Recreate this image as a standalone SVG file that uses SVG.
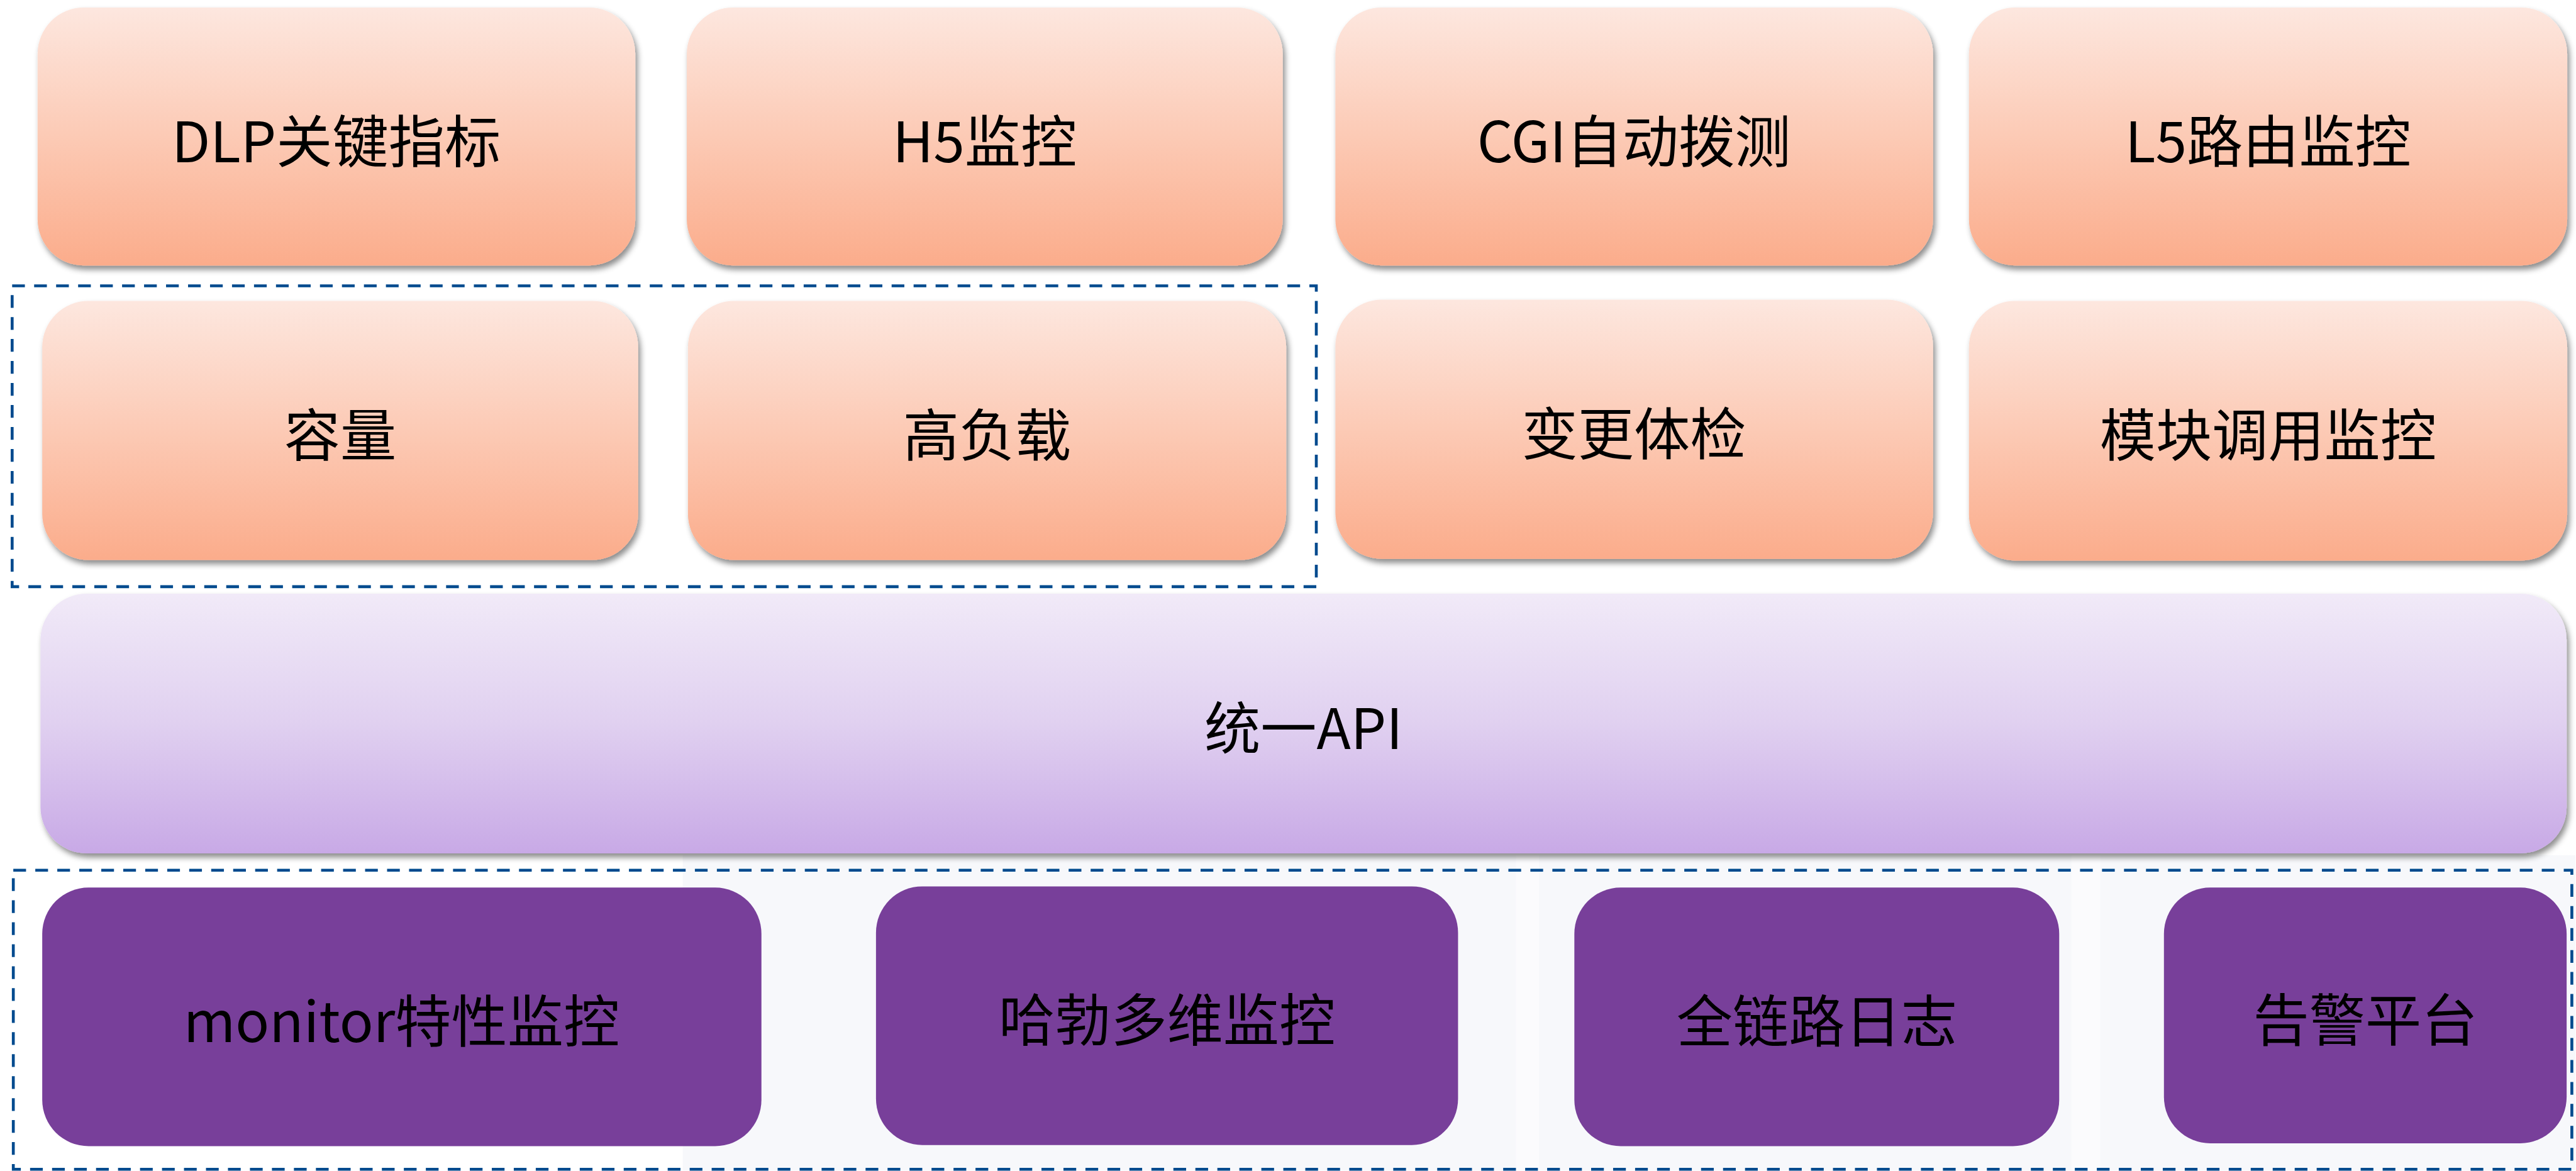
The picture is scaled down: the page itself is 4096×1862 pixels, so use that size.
<svg xmlns="http://www.w3.org/2000/svg" width="4096" height="1862" viewBox="0 0 4096 1862">
<defs>
<linearGradient id="gOrange" x1="0" y1="0" x2="0" y2="1">
<stop offset="0" stop-color="#FDE7DF"/>
<stop offset="0.5" stop-color="#FCCAB5"/>
<stop offset="1" stop-color="#FBAC8B"/>
</linearGradient>
<linearGradient id="gLilac" x1="0" y1="0" x2="0" y2="1">
<stop offset="0" stop-color="#F1EAF8"/>
<stop offset="0.5" stop-color="#E0D0F0"/>
<stop offset="1" stop-color="#C8A9E6"/>
</linearGradient>
<filter id="shadow" x="-5%" y="-5%" width="112%" height="120%">
<feDropShadow dx="4" dy="7" stdDeviation="5" flood-color="#000" flood-opacity="0.45"/>
</filter>
<style>
.orange{fill:url(#gOrange);filter:url(#shadow);}
.lilac{fill:url(#gLilac);filter:url(#shadow);}
.dark{fill:#783F9A;}
.lbl{font-family:"Noto Sans CJK SC","Microsoft YaHei","Noto Sans",sans-serif;font-size:97px;fill:#000;text-anchor:middle;dominant-baseline:central;}
.dash{fill:none;stroke:#004A8E;stroke-width:5;stroke-dasharray:22 16;}
</style>
</defs>
<rect width="4096" height="1862" fill="#FFFFFF"/>
<g transform="scale(0.92)">
<g id="watermark">
<rect x="1180" y="1478" width="3271" height="545" fill="#F7F8FB"/>
<rect x="2620" y="1478" width="40" height="545" fill="#FBFBFD"/>
<rect x="3580" y="1478" width="50" height="545" fill="#FBFBFD"/>
</g>
<g id="groups">
<rect class="dash" x="21" y="494" width="2254" height="520"/>
<rect class="dash" x="23" y="1504" width="4422" height="517"/>
</g>
<g id="n_dlp"><rect class="orange" x="65" y="13" width="1033" height="446" rx="80"/><text class="lbl" x="581" y="238">DLP关键指标</text></g>
<g id="n_h5"><rect class="orange" x="1187" y="13" width="1030" height="446" rx="80"/><text class="lbl" x="1702" y="238">H5监控</text></g>
<g id="n_cgi"><rect class="orange" x="2308" y="13" width="1033" height="446" rx="80"/><text class="lbl" x="2824" y="238">CGI自动拨测</text></g>
<g id="n_l5"><rect class="orange" x="3403" y="13" width="1034" height="446" rx="80"/><text class="lbl" x="3920" y="238">L5路由监控</text></g>
<g id="n_cap"><rect class="orange" x="73" y="520" width="1030" height="448" rx="80"/><text class="lbl" x="588" y="746">容量</text></g>
<g id="n_load"><rect class="orange" x="1189" y="520" width="1034" height="448" rx="80"/><text class="lbl" x="1706" y="746">高负载</text></g>
<g id="n_change"><rect class="orange" x="2308" y="518" width="1033" height="448" rx="80"/><text class="lbl" x="2824" y="744">变更体检</text></g>
<g id="n_module"><rect class="orange" x="3403" y="520" width="1034" height="449" rx="80"/><text class="lbl" x="3920" y="746">模块调用监控</text></g>
<g id="n_api"><rect class="lilac" x="70" y="1026" width="4366" height="449" rx="80"/><text class="lbl" x="2253" y="1252">统一API</text></g>
<g id="n_monitor"><rect class="dark" x="73" y="1534" width="1243" height="447" rx="80"/><text class="lbl" x="694" y="1759">monitor特性监控</text></g>
<g id="n_hubble"><rect class="dark" x="1514" y="1532" width="1006" height="447" rx="80"/><text class="lbl" x="2017" y="1757">哈勃多维监控</text></g>
<g id="n_trace"><rect class="dark" x="2721" y="1534" width="838" height="447" rx="80"/><text class="lbl" x="3140" y="1759">全链路日志</text></g>
<g id="n_alarm"><rect class="dark" x="3740" y="1534" width="696" height="442" rx="80"/><text class="lbl" x="4088" y="1757">告警平台</text></g>
<g id="connectors"></g>
</g>
</svg>
